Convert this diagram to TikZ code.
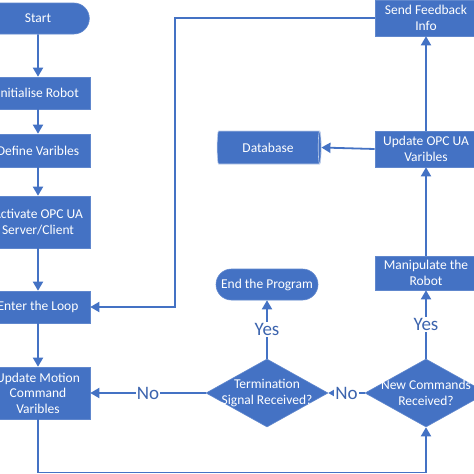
\documentclass[tikz,border=0pt]{standalone}
\usepackage{fontspec}
\setmainfont{Carlito}
\usetikzlibrary{shapes.geometric,shapes.misc,arrows.meta}
\definecolor{fcblue}{HTML}{4472C4}
\definecolor{lblue}{HTML}{3C64AE}
\begin{document}
\begin{tikzpicture}[x=1pt,y=-1pt,
  box/.style={rectangle,fill=fcblue,draw=fcblue!85!white,line width=0.6pt,text=white,align=center,font=\fontsize{13.5}{15.5}\selectfont,inner sep=1pt},
  dia/.style={diamond,fill=fcblue,draw=fcblue!85!white,line width=0.6pt,inner sep=0pt,minimum width=122pt,minimum height=68pt},
  diatxt/.style={text=white,align=center,font=\fontsize{13.5}{15.5}\selectfont,inner sep=0pt},
  arr/.style={draw=fcblue,line width=1.8pt,-{Triangle[width=10pt,length=9pt]}},
  lab/.style={fill=white,text=lblue,font=\fontsize{19}{21}\selectfont,inner sep=1pt}
]
\useasboundingbox (0,0) rectangle (474,474);
\clip (0,0) rectangle (474,474);
\fill[white] (0,0) rectangle (474,474);

% left column
\node[box,rounded rectangle,rounded rectangle left arc=none,minimum width=104pt,minimum height=31pt] (start) at (38,18.5) {Start};
\node[box,minimum width=104pt,minimum height=32pt] (init) at (38,93) {Initialise Robot};
\node[box,minimum width=104pt,minimum height=33pt] (define) at (38,150.5) {Define Varibles};
\node[box,minimum width=104pt,minimum height=52pt] (activate) at (38,222) {Activate OPC UA\\Server/Client};
\node[box,minimum width=104pt,minimum height=32pt] (loop) at (38,307) {Enter the Loop};
\node[box,minimum width=104pt,minimum height=52pt] (motion) at (38,393) {Update Motion\\Command\\Varibles};

% right column
\node[box,minimum width=102pt,minimum height=36pt] (feedback) at (426,18) {Send Feedback\\Info};
\node[box,minimum width=102pt,minimum height=36pt] (opcua) at (426,149) {Update OPC UA\\Varibles};
\node[box,minimum width=102pt,minimum height=34pt] (manip) at (426,273) {Manipulate the\\Robot};
\node[box,cylinder,shape aspect=0.25,minimum height=104pt,minimum width=33pt,draw=white!65!fcblue] (db) at (268,147.5) {Database};

% middle
\node[box,rounded rectangle,minimum width=104pt,minimum height=31pt] (endp) at (267,284.5) {End the Program};
\node[dia] (term) at (267,393) {};
\node[diatxt] at (term) {Termination\\Signal Received?};
\node[dia] (newc) at (426,393) {};
\node[diatxt] at (newc) {New Commands\\Received?};

\coordinate (tl) at (175,18);
\coordinate (ml) at (175,307);
\coordinate (bl) at (38,472.5);
\coordinate (br) at (426,472.5);

% connectors
\draw[arr] (start) -- (init);
\draw[arr] (init) -- (define);
\draw[arr] (define) -- (activate);
\draw[arr] (activate) -- (loop);
\draw[arr] (loop) -- (motion);
\draw[arr] (motion.south) -- (bl) -- (br) -- (newc.south);
\draw[arr] (newc.north) -- node[lab]{Yes} (manip.south);
\draw[arr] (manip) -- (opcua);
\draw[arr] (opcua) -- (feedback);
\draw[arr] (opcua.west) -- (db.east);
\draw[arr] (feedback.west) -- (tl) -- (ml) -- (loop.east);
\draw[arr] (newc.west) -- node[lab]{No} (term.east);
\draw[arr] (term.west) -- node[lab]{No} (motion.east);
\draw[arr] (term.north) -- node[lab]{Yes} (endp.south);
\end{tikzpicture}
\end{document}
